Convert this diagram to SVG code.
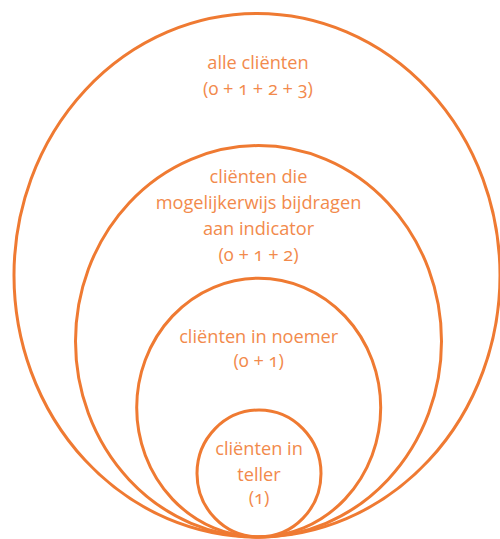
<svg xmlns="http://www.w3.org/2000/svg" width="500" height="539" viewBox="0 0 500 539">
<style>
.ring{fill:none;stroke:#EF7A32;stroke-width:3}
.lbl{font-family:"Open Sans","Noto Sans","Liberation Sans",sans-serif;font-size:18.2px;fill:#F28A4C;text-anchor:middle;font-variant-numeric:oldstyle-nums;font-feature-settings:"onum" 1}
</style>
<rect width="500" height="539" fill="#ffffff"/>
<g id="n-all">
<ellipse class="ring" cx="257" cy="275.3" rx="243" ry="261.7"/>
<text class="lbl" x="258" y="69">alle cliënten</text>
<text class="lbl" x="258" y="95">(0 + 1 + 2 + 3)</text>
</g>
<g id="n-possible">
<ellipse class="ring" cx="258.5" cy="341.3" rx="183" ry="195.7"/>
<text class="lbl" x="258.5" y="183">cliënten die</text>
<text class="lbl" x="258.5" y="209">mogelijkerwijs bijdragen</text>
<text class="lbl" x="258.5" y="235">aan indicator</text>
<text class="lbl" x="258.5" y="261">(0 + 1 + 2)</text>
</g>
<g id="n-noemer">
<ellipse class="ring" cx="258.7" cy="407.6" rx="122" ry="129.4"/>
<text class="lbl" x="258.7" y="343">cliënten in noemer</text>
<text class="lbl" x="258.7" y="367">(0 + 1)</text>
</g>
<g id="n-teller">
<ellipse class="ring" cx="259" cy="473.5" rx="62" ry="63.5"/>
<text class="lbl" x="259" y="455">cliënten in</text>
<text class="lbl" x="259" y="481">teller</text>
<text class="lbl" x="259" y="504">(1)</text>
</g>
<g id="connectors"/>
</svg>
